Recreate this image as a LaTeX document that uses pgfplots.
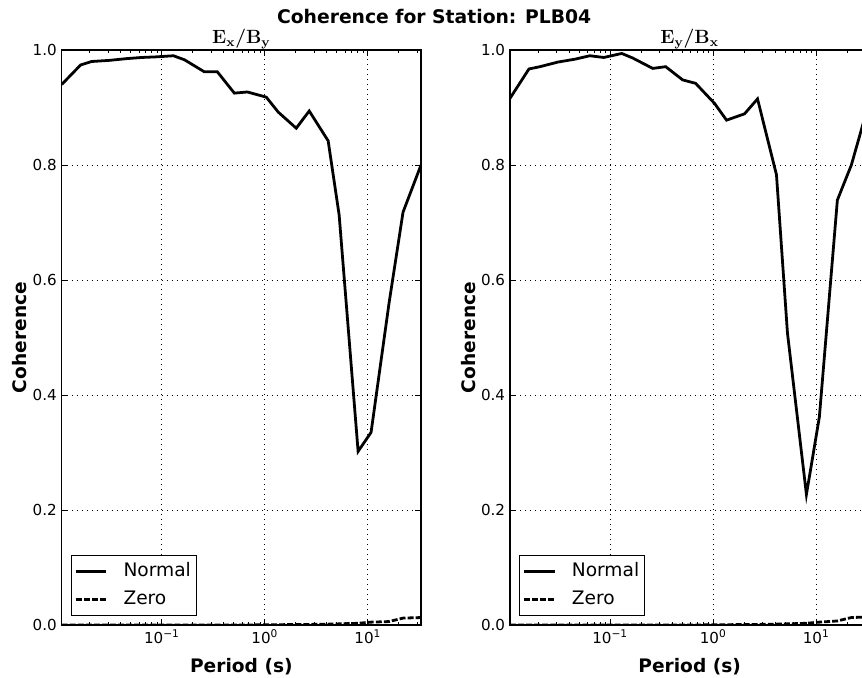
\documentclass[border=0pt]{standalone}
\usepackage{pgfplots}
\pgfplotsset{compat=1.18}
\usepackage[no-math]{fontspec}
\setmainfont{DejaVu Sans}
\newfontfamily\lmr{Latin Modern Roman}

\pgfplotstableread{
per normal zero
0.01067 0.940 0.000
0.01630 0.974 0.000
0.02084 0.980 0.000
0.03112 0.982 0.000
0.04548 0.985 0.000
0.06357 0.987 0.000
0.08689 0.988 0.000
0.1298 0.990 0.000
0.1660 0.983 0.000
0.2593 0.962 0.000
0.3465 0.962 0.000
0.5063 0.925 0.000
0.6767 0.927 0.000
1.034 0.918 0.0005
1.351 0.892 0.0005
2.020 0.864 0.001
2.700 0.894 0.001
4.124 0.842 0.0015
5.271 0.713 0.002
8.054 0.302 0.003
10.76 0.335 0.005
16.09 0.560 0.006
21.99 0.718 0.012
32.86 0.800 0.013
}\leftdata

\pgfplotstableread{
per normal zero
0.01067 0.916 0.000
0.01630 0.967 0.000
0.02084 0.971 0.000
0.03112 0.979 0.000
0.04548 0.984 0.000
0.06357 0.990 0.000
0.08689 0.987 0.000
0.1298 0.994 0.000
0.1660 0.986 0.000
0.2593 0.968 0.000
0.3465 0.971 0.000
0.5063 0.948 0.000
0.6767 0.942 0.000
1.034 0.907 0.0005
1.351 0.878 0.0005
2.020 0.889 0.001
2.700 0.915 0.001
4.124 0.783 0.0015
5.271 0.508 0.002
8.054 0.227 0.003
10.76 0.362 0.005
16.09 0.739 0.007
21.99 0.800 0.013
32.86 0.910 0.014
}\rightdata

\pgfplotsset{
  every axis/.append style={
    scale only axis, width=258.7pt, height=414pt,
    anchor=north west,
    xmin=0.01067, xmax=32.86, ymin=0, ymax=1,
    xtick={0.1,1,10},
    xticklabels={10\textsuperscript{−1},10\textsuperscript{0},10\textsuperscript{1}},
    minor xtick={0.02,0.03,0.04,0.05,0.06,0.07,0.08,0.09,0.2,0.3,0.4,0.5,0.6,0.7,0.8,0.9,2,3,4,5,6,7,8,9,20,30},
    ytick={0,0.2,0.4,0.6,0.8,1.0},
    yticklabels={0.0,0.2,0.4,0.6,0.8,1.0},
    tick align=inside, tick pos=both,
    major tick length=4pt, minor tick length=2.2pt,
    axis line style={black, line width=0.9pt},
    xmajorgrids, ymajorgrids,
    major grid style={black, line width=0.6pt, dash pattern=on 0.8pt off 2.8pt},
    ticklabel style={font=\fontsize{10.9}{13}\selectfont},
    label style={font=\fontsize{13.4}{16}\selectfont\bfseries},
    xlabel={Period (s)},
    ylabel={Coherence},
    xlabel style={at={(axis description cs:0.5,0)}, anchor=base, yshift=-34.3pt},
    ylabel style={at={(axis description cs:0,0.5)}, anchor=base, yshift=25pt},
    legend style={at={(0.026,0.016)}, anchor=south west, draw=black, line width=0.8pt,
      fill=white, font=\fontsize{13.4}{16}\selectfont,
      inner xsep=2pt, inner ysep=2.7pt,
      nodes={inner sep=2pt, text height=10pt, text depth=3pt},
      row sep=3.4pt},
    legend cell align=left,
  },
  every axis title/.style={at={(0.5,1)}, anchor=base, yshift=4.8pt},
  every tick/.style={black, line width=0.6pt},
  legend image code/.code={\draw[#1] (5pt,0pt) -- (27pt,0pt); \path (36.4pt,0pt);},
}

\begin{document}
\begin{tikzpicture}
\path[use as bounding box] (0,0) rectangle (620.64pt,-487.44pt);
\fill[white] (0,0) rectangle (620.64pt,-487.44pt);

\node[anchor=base, font=\fontsize{13.5}{16}\selectfont\bfseries] at (312.6pt,-16.9pt) {Coherence for Station: PLB04};

\begin{semilogxaxis}[at={(44.42pt,-36pt)}, title={\scalebox{1.15}{\lmr\fontsize{12}{14}\selectfont\bfseries E\textsubscript{x}/B\textsubscript{y}}}]
\addplot[black, line width=2pt] table[x=per, y=normal] {\leftdata};
\addlegendentry{Normal}
\addplot[black, line width=2pt, dash pattern=on 4.3pt off 1.5pt] table[x=per, y=zero] {\leftdata};
\addlegendentry{Zero}
\end{semilogxaxis}

\begin{semilogxaxis}[at={(367.2pt,-36pt)}, title={\scalebox{1.15}{\lmr\fontsize{12}{14}\selectfont\bfseries E\textsubscript{y}/B\textsubscript{x}}}]
\addplot[black, line width=2pt] table[x=per, y=normal] {\rightdata};
\addlegendentry{Normal}
\addplot[black, line width=2pt, dash pattern=on 4.3pt off 1.5pt] table[x=per, y=zero] {\rightdata};
\addlegendentry{Zero}
\end{semilogxaxis}
\end{tikzpicture}
\end{document}
